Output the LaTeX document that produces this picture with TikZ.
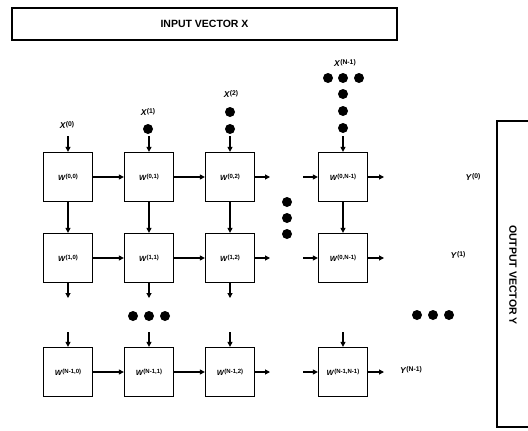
\documentclass[tikz,border=0pt]{standalone}
\usepackage{fontspec}
\setmainfont{Liberation Sans}
\usetikzlibrary{arrows.meta}
\newcommand{\lbl}[2]{\textit{#1}\raisebox{0.45ex}{\scalebox{0.8}{(#2)}}}
\tikzset{
  cell/.style={draw, line width=1.3pt, minimum width=49pt, minimum height=49pt, inner sep=0pt, font=\fontsize{7.5}{8}\selectfont\bfseries},
  arr/.style={line width=1.1pt, -{Triangle[length=5pt,width=5pt]}},
  dotc/.style={circle, fill, inner sep=0pt, minimum size=10pt},
  lab/.style={font=\fontsize{8.5}{9}\selectfont\bfseries, inner sep=0pt},
  frame/.style={draw, line width=1.1pt}
}
\begin{document}
\begin{tikzpicture}[x=1pt,y=-1pt]
\useasboundingbox (0,0) rectangle (528,431);
% input / output boxes
\node[frame, minimum width=385pt, minimum height=32pt, inner sep=0pt, font=\fontsize{10.5}{12}\selectfont\bfseries] (inbox) at (204.5,24) {INPUT VECTOR X};
\draw[line width=1.1pt] (540,121) -- (497,121) -- (497,427) -- (540,427);
\node[rotate=-90, font=\fontsize{10.5}{12}\selectfont\bfseries] (outlbl) at (513,275) {OUTPUT VECTOR Y};
% cells
\foreach \r/\y in {0/177,1/258,2/372}{
  \foreach \c/\x in {0/68,1/149,2/230,3/343}{
    \coordinate (p\r\c) at (\x,\y);
  }
}
\node[cell] (b00) at (p00) {\lbl{W}{0,0}};
\node[cell] (b01) at (p01) {\lbl{W}{0,1}};
\node[cell] (b02) at (p02) {\lbl{W}{0,2}};
\node[cell] (b03) at (p03) {\lbl{W}{0,N-1}};
\node[cell] (b10) at (p10) {\lbl{W}{1,0}};
\node[cell] (b11) at (p11) {\lbl{W}{1,1}};
\node[cell] (b12) at (p12) {\lbl{W}{1,2}};
\node[cell] (b13) at (p13) {\lbl{W}{0,N-1}};
\node[cell] (b20) at (p20) {\lbl{W}{N-1,0}};
\node[cell] (b21) at (p21) {\lbl{W}{N-1,1}};
\node[cell] (b22) at (p22) {\lbl{W}{N-1,2}};
\node[cell] (b23) at (p23) {\lbl{W}{N-1,N-1}};
% horizontal connectors
\foreach \r/\y in {0/177,1/258,2/372}{
  \draw[arr] (b\r0) -- (b\r1);
  \draw[arr] (b\r1) -- (b\r2);
  \coordinate (e\r) at (270,\y);
  \coordinate (s\r) at (303,\y);
  \coordinate (o\r) at (384,\y);
  \draw[arr] (b\r2.east) -- (e\r);
  \draw[arr] (s\r) -- (b\r3.west);
  \draw[arr] (b\r3.east) -- (o\r);
}
% vertical connectors rows 0 -> 1
\foreach \c in {0,1,2,3}{
  \draw[arr] (b0\c) -- (b1\c);
}
% top inputs
\foreach \c/\x in {0/68,1/149,2/230,3/343}{
  \coordinate (t\c) at (\x,136);
  \draw[arr] (t\c) -- (b0\c.north);
  \coordinate (u\c) at (\x,332);
  \draw[arr] (u\c) -- (b2\c.north);
}
% outputs below row 1
\foreach \c/\x in {0/68,1/149,2/230}{
  \coordinate (w\c) at (\x,298);
  \draw[arr] (b1\c.south) -- (w\c);
}
% input labels
\node[lab] (x0) at (67,125) {\lbl{X}{0}};
\node[lab] (x1) at (148,112) {\lbl{X}{1}};
\node[lab] (x2) at (231,94) {\lbl{X}{2}};
\node[lab] (x3) at (345,63) {\lbl{X}{N-1}};
% dots above inputs
\node[dotc] (da) at (148,129) {};
\node[dotc] (db) at (230,112) {};
\node[dotc] (dc) at (230,129) {};
\node[dotc] (dd) at (328,78) {};
\node[dotc] (de) at (343,78) {};
\node[dotc] (df) at (359,78) {};
\node[dotc] (dg) at (343,94) {};
\node[dotc] (dh) at (343,111) {};
\node[dotc] (di) at (343,128) {};
% column dots
\node[dotc] (dj) at (287,202) {};
\node[dotc] (dk) at (287,218) {};
\node[dotc] (dl) at (287,234) {};
% row dots
\node[dotc] (dm) at (133,316) {};
\node[dotc] (dn) at (149,316) {};
\node[dotc] (do) at (165,316) {};
\node[dotc] (dp) at (417,315) {};
\node[dotc] (dq) at (433,315) {};
\node[dotc] (dr) at (449,315) {};
% output labels
\node[lab] (y0) at (473,177) {\lbl{Y}{0}};
\node[lab] (y1) at (458,255) {\lbl{Y}{1}};
\node[lab] (y2) at (411,370) {\lbl{Y}{N-1}};
\end{tikzpicture}
\end{document}
